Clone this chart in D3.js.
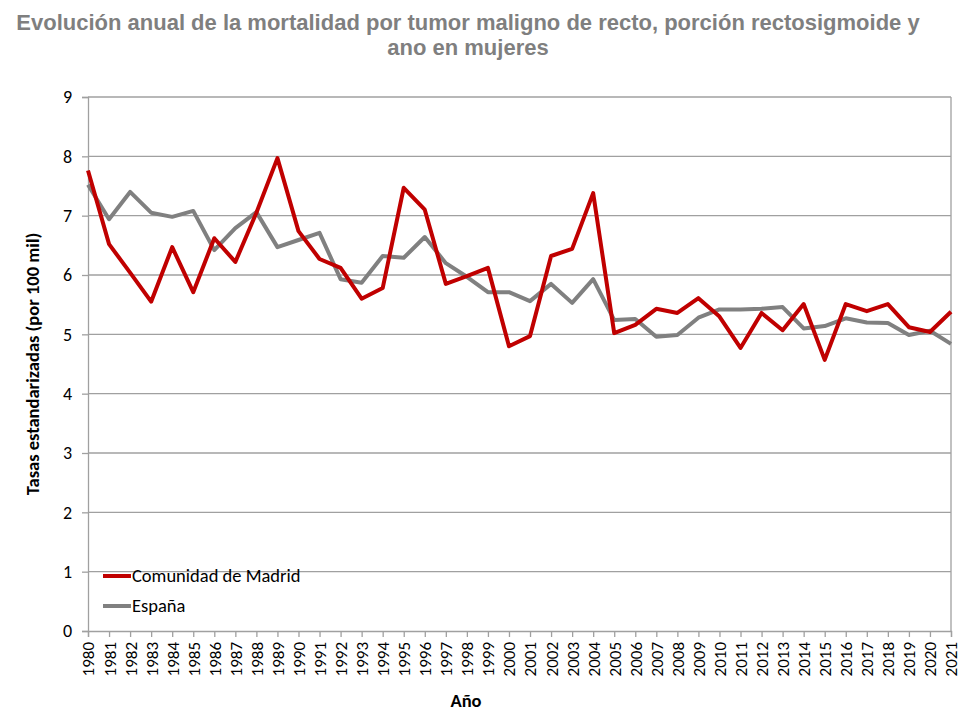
<!DOCTYPE html>
<html>
<head>
<meta charset="utf-8">
<script src="https://cdn.jsdelivr.net/npm/d3@7"></script>
<style>
  body { margin: 0; background: #fff; }
  svg text { font-family: Carlito, "Open Sans", "Liberation Sans", sans-serif; }
</style>
</head>
<body>
<div id="chart"></div>
<script>
const years = d3.range(1980, 2022);
const madrid = [7.76, 6.52, 6.04, 5.55, 6.47, 5.71, 6.62, 6.22, 7.05, 7.97,
  6.74, 6.27, 6.12, 5.6, 5.78, 7.47, 7.1, 5.85, 5.98, 6.12,
  4.8, 4.97, 6.32, 6.44, 7.38, 5.02, 5.16, 5.43, 5.36, 5.61,
  5.3, 4.77, 5.36, 5.07, 5.51, 4.57, 5.51, 5.39, 5.51, 5.12,
  5.04, 5.38];
const espana = [7.52, 6.94, 7.4, 7.05, 6.98, 7.08, 6.42, 6.79, 7.06, 6.47,
  6.59, 6.71, 5.93, 5.87, 6.32, 6.29, 6.64, 6.2, 5.97, 5.71,
  5.71, 5.56, 5.85, 5.53, 5.93, 5.24, 5.26, 4.96, 4.99, 5.28,
  5.42, 5.42, 5.43, 5.46, 5.1, 5.14, 5.27, 5.2, 5.19, 4.99,
  5.06, 4.84];
const yTicks = d3.range(0, 10);
const series = [
  { name: "Comunidad de Madrid", values: madrid, color: "#c00000" },
  { name: "España", values: espana, color: "#808080" }
];

const W = 972, H = 714;
const margin = { top: 97, right: 21, bottom: 83, left: 88 };

const svg = d3.select("#chart").append("svg")
  .attr("width", W).attr("height", H);

const x = d3.scaleLinear().domain([1980, 2021]).range([margin.left, W - margin.right]);
const y = d3.scaleLinear().domain([0, 9]).range([H - margin.bottom, margin.top]);

// title
const title = svg.append("text")
  .attr("text-anchor", "middle")
  .attr("fill", "#7f7f7f")
  .style("font-family", "'Liberation Sans', Arial, sans-serif")
  .style("font-weight", "bold")
  .style("font-size", "22px");
title.append("tspan").attr("x", 468).attr("y", 30)
  .text("Evolución anual de la mortalidad por tumor maligno de recto, porción rectosigmoide y");
title.append("tspan").attr("x", 468).attr("y", 55)
  .text("ano en mujeres");

// gridlines
svg.append("g")
  .selectAll("line")
  .data(yTicks.filter(d => d > 0))
  .join("line")
  .attr("x1", margin.left).attr("x2", W - margin.right)
  .attr("y1", d => y(d)).attr("y2", d => y(d))
  .attr("stroke", "#a0a0a0").attr("stroke-width", 1.3);

// right border
svg.append("line")
  .attr("x1", W - margin.right).attr("x2", W - margin.right)
  .attr("y1", y(9)).attr("y2", y(0))
  .attr("stroke", "#a0a0a0").attr("stroke-width", 1.3);

// y axis
const yAxis = svg.append("g")
  .attr("transform", `translate(${margin.left},0)`)
  .call(d3.axisLeft(y).tickValues(yTicks).tickSize(6).tickPadding(10).tickFormat(d3.format("d")));
yAxis.select(".domain").attr("stroke", "#a0a0a0").attr("stroke-width", 1.3);
yAxis.selectAll(".tick line").attr("stroke", "#a0a0a0").attr("stroke-width", 1.3);
yAxis.selectAll(".tick text").attr("fill", "#000").style("font-size", "18px");

// x axis
const xAxis = svg.append("g")
  .attr("transform", `translate(0,${y(0)})`)
  .call(d3.axisBottom(x).tickValues(years).tickSize(6).tickFormat(d3.format("d")));
xAxis.select(".domain").attr("stroke", "#a0a0a0").attr("stroke-width", 1.3);
xAxis.selectAll(".tick line").attr("stroke", "#a0a0a0").attr("stroke-width", 1.3);
xAxis.selectAll(".tick text")
  .attr("fill", "#000")
  .style("font-size", "17px")
  .attr("text-anchor", "end")
  .attr("transform", "rotate(-90)")
  .attr("x", -11).attr("y", 0).attr("dy", "0.35em");

// axis titles
svg.append("text")
  .attr("transform", `translate(39,${(y(0) + y(9)) / 2}) rotate(-90)`)
  .attr("text-anchor", "middle")
  .style("font-weight", "bold").style("font-size", "18.5px")
  .text("Tasas estandarizadas (por 100 mil)");
svg.append("text")
  .attr("x", 466).attr("y", 707)
  .attr("text-anchor", "middle")
  .style("font-weight", "bold").style("font-size", "18.5px")
  .text("Año");

// lines
const line = d3.line().x((d, i) => x(years[i])).y(d => y(d));
svg.append("g").selectAll("path")
  .data(series.slice().reverse())
  .join("path")
  .attr("d", d => line(d.values))
  .attr("fill", "none")
  .attr("stroke", d => d.color)
  .attr("stroke-width", 4)
  .attr("stroke-linejoin", "round");

// legend
const legend = svg.append("g").selectAll("g")
  .data(series)
  .join("g")
  .attr("transform", (d, i) => `translate(103,${576 + i * 30})`);
legend.append("line")
  .attr("x1", 0).attr("x2", 28)
  .attr("stroke", d => d.color).attr("stroke-width", 4);
legend.append("text")
  .attr("x", 29).attr("dy", "0.35em")
  .style("font-size", "18.5px")
  .text(d => d.name);
</script>
</body>
</html>
